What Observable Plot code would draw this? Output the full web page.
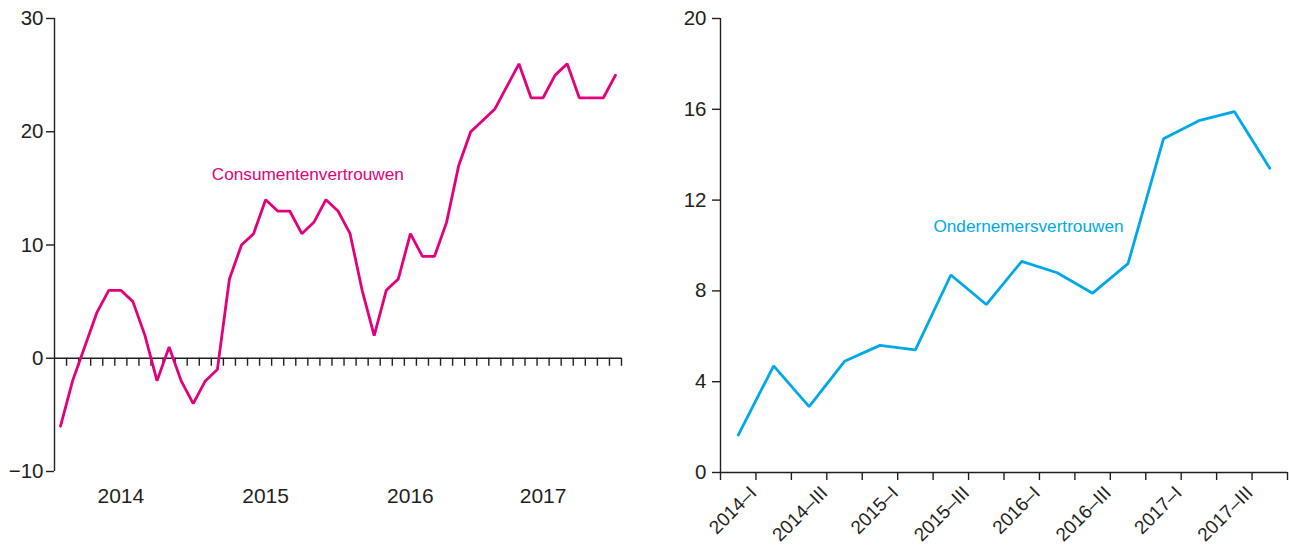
<!DOCTYPE html>
<html>
<head>
<meta charset="utf-8">
<script src="https://cdn.jsdelivr.net/npm/d3@7"></script>
<script src="https://cdn.jsdelivr.net/npm/@observablehq/plot@0.6"></script>
<style>
  html, body { margin: 0; padding: 0; background: #fff; }
  #wrap { display: flex; width: 1290px; height: 547px; }
  #wrap svg { display: block; }
</style>
</head>
<body>
<div id="wrap"></div>
<script>
// ---------- Data ----------
const maanden = [
  "2014-01","2014-02","2014-03","2014-04","2014-05","2014-06","2014-07","2014-08","2014-09","2014-10","2014-11","2014-12",
  "2015-01","2015-02","2015-03","2015-04","2015-05","2015-06","2015-07","2015-08","2015-09","2015-10","2015-11","2015-12",
  "2016-01","2016-02","2016-03","2016-04","2016-05","2016-06","2016-07","2016-08","2016-09","2016-10","2016-11","2016-12",
  "2017-01","2017-02","2017-03","2017-04","2017-05","2017-06","2017-07","2017-08","2017-09","2017-10","2017-11"
];
const consumentenvertrouwen = [
  -6, -2, 1, 4, 6, 6, 5, 2, -2, 1, -2, -4,
  -2, -1, 7, 10, 11, 14, 13, 13, 11, 12, 14, 13,
  11, 6, 2, 6, 7, 11, 9, 9, 12, 17, 20, 21,
  22, 24, 26, 23, 23, 25, 26, 23, 23, 23, 25
];
const jaren = ["2014", "2015", "2016", "2017"];
const jaarLabelMaand = ["2014-06", "2015-06", "2016-06", "2017-05"];
const yTicksLinks = [-10, 0, 10, 20, 30];

const kwartalen = [
  "2014–I","2014–II","2014–III","2014–IV",
  "2015–I","2015–II","2015–III","2015–IV",
  "2016–I","2016–II","2016–III","2016–IV",
  "2017–I","2017–II","2017–III","2017–IV"
];
const ondernemersvertrouwen = [1.65, 4.7, 2.9, 4.9, 5.6, 5.4, 8.7, 7.4, 9.3, 8.8, 7.9, 9.2, 14.7, 15.5, 15.9, 13.4];
const kwartaalLabels = ["2014–I","2014–III","2015–I","2015–III","2016–I","2016–III","2017–I","2017–III"];
const yTicksRechts = [0, 4, 8, 12, 16, 20];

const reeksLabels = ["Consumentenvertrouwen", "Ondernemersvertrouwen"];

// ---------- Style ----------
const FONT = "'Liberation Sans', Arial, Helvetica, sans-serif";
const INK = "#231f20";
const MAGENTA = "#e3007b";
const CYAAN = "#00a9e6";
const AXW = 1.4;

// ---------- Left chart ----------
const L = {width: 645, height: 547, mt: 18, mb: 76, ml: 54, mr: 24};
const nM = maanden.length;
const tickLenL = 8 / ((L.height - L.mt - L.mb) / 40);

const links = Plot.plot({
  width: L.width, height: L.height,
  marginTop: L.mt, marginBottom: L.mb, marginLeft: L.ml, marginRight: L.mr,
  x: {domain: [0, nM], axis: null},
  y: {domain: [-10, 30], axis: null},
  style: {fontFamily: FONT, color: INK, background: "transparent", overflow: "visible"},
  marks: [
    Plot.ruleY([0], {stroke: INK, strokeWidth: AXW}),
    Plot.ruleX(d3.range(1, nM + 1), {y1: 0, y2: -tickLenL, stroke: INK, strokeWidth: AXW}),
    Plot.ruleX([0], {stroke: INK, strokeWidth: AXW}),
    Plot.axisY({anchor: "left", ticks: yTicksLinks, tickSize: 8, tickPadding: 3, fontSize: 20.5,
                strokeWidth: AXW, label: null, tickFormat: d => d < 0 ? "−" + Math.abs(d) : String(d)}),
    Plot.line(consumentenvertrouwen, {x: (d, i) => i + 0.5, y: d => d, stroke: MAGENTA, strokeWidth: 2.8,
                strokeLinejoin: "miter"}),
    Plot.text(jaren, {x: (d, i) => maanden.indexOf(jaarLabelMaand[i]) + 0.5, frameAnchor: "bottom",
                dy: 25, lineAnchor: "middle", fontSize: 21, fill: INK}),
    Plot.text([reeksLabels[0]], {x: 21, y: 16.2, lineAnchor: "middle", fontSize: 17.2, fill: MAGENTA})
  ]
});

// ---------- Right chart ----------
const R = {width: 645, height: 547, mt: 18, mb: 75, ml: 75, mr: 3};
const nQ = kwartalen.length;
const tickLenR = 8 / ((R.height - R.mt - R.mb) / 20);

const rechts = Plot.plot({
  width: R.width, height: R.height,
  marginTop: R.mt, marginBottom: R.mb, marginLeft: R.ml, marginRight: R.mr,
  x: {domain: [0, nQ], axis: null},
  y: {domain: [0, 20], axis: null},
  style: {fontFamily: FONT, color: INK, background: "transparent", overflow: "visible"},
  marks: [
    Plot.ruleY([0], {stroke: INK, strokeWidth: AXW}),
    Plot.ruleX([0], {stroke: INK, strokeWidth: AXW}),
    Plot.ruleX(d3.range(0, nQ + 1), {y1: 0, y2: -tickLenR, stroke: INK, strokeWidth: AXW}),
    Plot.axisY({anchor: "left", ticks: yTicksRechts, tickSize: 8, tickPadding: 6, fontSize: 20.5,
                strokeWidth: AXW, label: null}),
    Plot.line(ondernemersvertrouwen, {x: (d, i) => i + 0.5, y: d => d, stroke: CYAAN, strokeWidth: 2.8,
                strokeLinejoin: "miter"}),
    Plot.text(kwartaalLabels, {x: d => kwartalen.indexOf(d) + 0.5, frameAnchor: "bottom",
                rotate: -45, textAnchor: "end", lineAnchor: "top", dx: 10, dy: 12, fontSize: 19, fill: INK}),
    Plot.text([reeksLabels[1]], {x: 8.69, y: 10.82, lineAnchor: "middle", fontSize: 17.2, fill: CYAAN})
  ]
});

const wrap = document.getElementById("wrap");
wrap.appendChild(links);
wrap.appendChild(rechts);
</script>
</body>
</html>
